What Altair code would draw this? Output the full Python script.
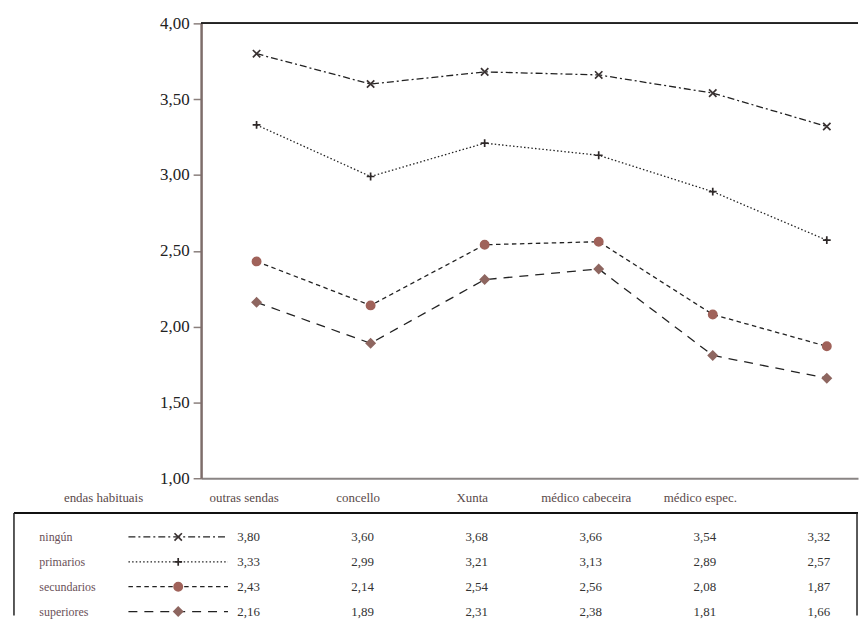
import json
import altair as alt
import pandas as pd

# ---------------- data ----------------
columns = ["c1", "c2", "c3", "c4", "c5", "c6"]
header_labels = ["outras sendas", "concello", "Xunta", "médico cabeceira", "médico espec.", ""]
first_header = "endas habituais"
series = ["ningún", "primarios", "secundarios", "superiores"]
ningun = [3.80, 3.60, 3.68, 3.66, 3.54, 3.32]
primarios = [3.33, 2.99, 3.21, 3.13, 2.89, 2.57]
secundarios = [2.43, 2.14, 2.54, 2.56, 2.08, 1.87]
superiores = [2.16, 1.89, 2.31, 2.38, 1.81, 1.66]
y_ticks = [1.0, 1.5, 2.0, 2.5, 3.0, 3.5, 4.0]

series_values = {
    "ningún": ningun,
    "primarios": primarios,
    "secundarios": secundarios,
    "superiores": superiores,
}
rows = []
for s in series:
    for c, v in zip(columns, series_values[s]):
        rows.append({"col": c, "series": s, "value": v,
                     "label": f"{v:.2f}".replace(".", ",")})
df = pd.DataFrame(rows)
df_series = pd.DataFrame({"series": series})

# ---------------- styling ----------------
SERIF = "Liberation Serif"
W = 660
H_PLOT = 457
H_TAB = 92

x_path = "M-1,-1L1,1M-1,1L1,-1"
plus_path = "M-1,0L1,0M0,-1L0,1"

shape_scale = alt.Scale(domain=series, range=[x_path, plus_path, "circle", "diamond"])
fill_scale = alt.Scale(domain=series, range=["#3a3232", "#3a3232", "#a0625a", "#8e6660"])
stroke_scale = alt.Scale(domain=series, range=["#3a3232", "#2e2828", "#a0625a", "#8e6660"])
size_scale = alt.Scale(domain=series, range=[55, 75, 95, 75])
dash_scale = alt.Scale(domain=series, range=[[7, 3, 2, 3], [1.5, 2.2], [4.5, 3.5], [9, 7]])

x_scale = alt.Scale(type="point", domain=columns, padding=0.38, align=0.64)

label_expr = f"{json.dumps(header_labels, ensure_ascii=False)}[indexof({json.dumps(columns)}, datum.value)]"

x_enc = alt.X(
    "col:N", sort=columns, scale=x_scale, title=None,
    axis=alt.Axis(labelExpr=label_expr, domainColor="#8a8584", domainWidth=2,
                  ticks=False, labelPadding=13, labelFont=SERIF, labelFontSize=13,
                  labelColor="#5a4a4a", labelAngle=0, labelOffset=-13, grid=False),
)
y_enc = alt.Y(
    "value:Q", scale=alt.Scale(domain=[1, 4], nice=False, zero=False), title=None,
    axis=alt.Axis(values=y_ticks,
                  labelExpr="replace(format(datum.value, '.2f'), '.', ',')",
                  tickSize=8, tickColor="#8a7f7c", tickWidth=1.5,
                  domainColor="#7d6d6a", domainWidth=2.5,
                  labelFont=SERIF, labelFontSize=17, labelColor="#222222",
                  labelPadding=4, grid=False),
)

lines = alt.Chart(df).mark_line(color="#222222", strokeWidth=1.3).encode(
    x=x_enc, y=y_enc,
    strokeDash=alt.StrokeDash("series:N", scale=dash_scale, legend=None),
    detail="series:N",
)
points = alt.Chart(df).mark_point(filled=True, opacity=1, strokeWidth=1.7).encode(
    x=x_enc, y=y_enc,
    shape=alt.Shape("series:N", scale=shape_scale, legend=None),
    fill=alt.Fill("series:N", scale=fill_scale, legend=None),
    stroke=alt.Stroke("series:N", scale=stroke_scale, legend=None),
    size=alt.Size("series:N", scale=size_scale, legend=None),
)
top_rule = alt.Chart(df_series).mark_rule(color="#222222", strokeWidth=1.5).encode(
    y=alt.datum(4.0)
)
first_head = alt.Chart(pd.DataFrame({"t": [first_header]})).mark_text(
    font=SERIF, fontSize=13, color="#5a4a4a", align="center", baseline="middle"
).encode(x=alt.value(-98), y=alt.value(H_PLOT + 20), text="t:N")

chart_a = alt.layer(lines, points, top_rule, first_head).properties(width=W, height=H_PLOT)

# ---------------- table ----------------
yb = alt.Y(
    "series:N", sort=series, title=None,
    scale=alt.Scale(type="point", domain=series, padding=0.34, align=0.765),
    axis=alt.Axis(domain=False, ticks=False, tickSize=0, labelAlign="left",
                  labelPadding=163, labelFont=SERIF, labelFontSize=12,
                  labelColor="#6a5058", labelBaseline="middle"),
)
xb = alt.X("col:N", sort=columns, scale=x_scale, axis=None)

vals = alt.Chart(df).mark_text(font=SERIF, fontSize=13, color="#333333", dx=-8).encode(
    x=xb, y=yb, text="label:N"
)
sample_lines = alt.Chart(df_series).mark_rule(color="#222222", strokeWidth=1.3).encode(
    x=alt.value(-73), x2=alt.value(27), y=yb,
    strokeDash=alt.StrokeDash("series:N", scale=dash_scale, legend=None),
)
sample_pts = alt.Chart(df_series).mark_point(filled=True, opacity=1, strokeWidth=1.7).encode(
    x=alt.value(-23), y=yb,
    shape=alt.Shape("series:N", scale=shape_scale, legend=None),
    fill=alt.Fill("series:N", scale=fill_scale, legend=None),
    stroke=alt.Stroke("series:N", scale=stroke_scale, legend=None),
    size=alt.Size("series:N", scale=size_scale, legend=None),
)
box_one = pd.DataFrame({"k": [0]})
box_top = alt.Chart(box_one).mark_rule(color="#111111", strokeWidth=2).encode(
    x=alt.value(-188), x2=alt.value(W), y=alt.value(-11)
)
box_left = alt.Chart(box_one).mark_rule(color="#222222", strokeWidth=1.5).encode(
    x=alt.value(-188), y=alt.value(-11), y2=alt.value(H_TAB)
)
box_right = alt.Chart(box_one).mark_rule(color="#222222", strokeWidth=1.5).encode(
    x=alt.value(W - 1), y=alt.value(-11), y2=alt.value(H_TAB)
)

chart_b = alt.layer(box_top, box_left, box_right, sample_lines, sample_pts, vals).properties(
    width=W, height=H_TAB
)

chart = alt.vconcat(chart_a, chart_b, spacing=7).properties(
    padding={"left": 5, "top": 5, "right": 0, "bottom": 0},
    background="white",
).configure_view(stroke=None)

chart.save("out.html", embed_options={"renderer": "svg", "actions": False})
